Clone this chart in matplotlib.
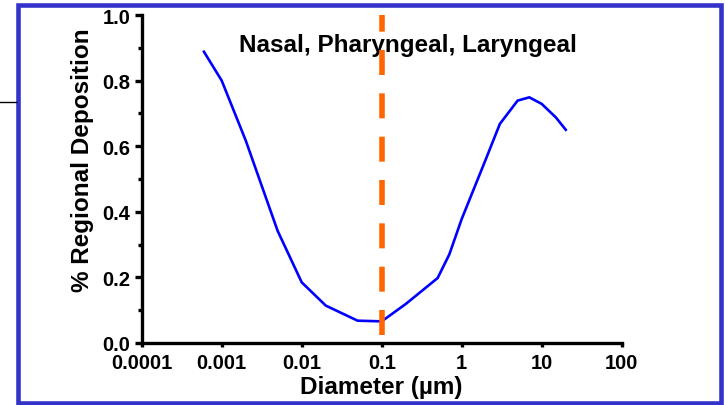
import matplotlib
matplotlib.use("Agg")
import matplotlib.pyplot as plt
from matplotlib.patches import Rectangle
from matplotlib.lines import Line2D
from matplotlib.ticker import MultipleLocator, FixedLocator, NullLocator

plt.rcParams['font.family'] = ['Liberation Sans', 'DejaVu Sans']

diameter = [0.0006, 0.001, 0.002, 0.005, 0.01, 0.02, 0.05, 0.1, 0.2, 0.5, 0.7, 1.0, 2.0, 3.0, 5.0, 7.0, 10.0, 15.0, 20.0]
deposition = [0.888, 0.80, 0.617, 0.342, 0.185, 0.114, 0.068, 0.066, 0.119, 0.198, 0.27, 0.378, 0.56, 0.668, 0.739, 0.749, 0.729, 0.688, 0.65]
cutoff = 0.1
xticks = [0.0001, 0.001, 0.01, 0.1, 1, 10, 100]
xticklabels = ['0.0001', '0.001', '0.01', '0.1', '1', '10', '100']
yticks = [0.0, 0.2, 0.4, 0.6, 0.8, 1.0]
yticklabels = ['0.0', '0.2', '0.4', '0.6', '0.8', '1.0']

W, H = 725, 406
fig = plt.figure(figsize=(W/100, H/100), dpi=100)
ax = fig.add_axes([141.7/W, 62/H, 480/W, 328/H])

ax.plot(diameter, deposition, color='#0000FF', lw=1.9, solid_joinstyle='miter', zorder=3)
ax.axvline(cutoff, ymin=0.025, ymax=1.0, color='#FF6600', lw=4, dashes=(4.5, 3.3), zorder=4)

ax.set_xscale('log')
ax.set_xlim(0.0001, 100)
ax.set_ylim(0, 1.0)
ax.xaxis.set_major_locator(FixedLocator(xticks))
ax.xaxis.set_minor_locator(NullLocator())
ax.set_xticks(xticks)
ax.set_xticklabels(xticklabels)
ax.set_yticks(yticks)
ax.set_yticklabels(yticklabels)
ax.yaxis.set_minor_locator(MultipleLocator(0.1))

for s in ['top', 'right']:
    ax.spines[s].set_visible(False)
for s in ['left', 'bottom']:
    ax.spines[s].set_linewidth(2.4)
    ax.spines[s].set_color('black')

ax.tick_params(axis='y', which='major', direction='out', length=5, width=2.4,
               labelsize=14.5, pad=3)
ax.tick_params(axis='x', which='major', direction='out', length=3, width=2.4,
               labelsize=14.5, pad=4)
ax.tick_params(axis='y', which='minor', direction='out', length=3, width=2.4)
for lab in ax.get_xticklabels() + ax.get_yticklabels():
    lab.set_fontweight('bold')

ax.set_xlabel('Diameter (µm)', fontsize=17.5, fontweight='bold', labelpad=2.5)
ax.set_ylabel('% Regional Deposition', fontsize=17.5, fontweight='bold')
ax.yaxis.set_label_coords(-0.1, 0.56)

ax.text(0.555, 0.91, 'Nasal, Pharyngeal, Laryngeal', transform=ax.transAxes,
        ha='center', va='center', fontsize=17.5, fontweight='bold')

# figure border and stray line
fig.patches.append(Rectangle((17.5/W, 1-403.5/H), (720.5-17.5)/W, (403.5-5.5)/H,
                             transform=fig.transFigure,
                             fill=False, edgecolor='#3333CC', lw=3.3))
fig.lines.append(Line2D([0, 16/W], [1-103/H, 1-103/H], transform=fig.transFigure,
                        color='black', lw=1))

fig.savefig('out.png', dpi=100)
